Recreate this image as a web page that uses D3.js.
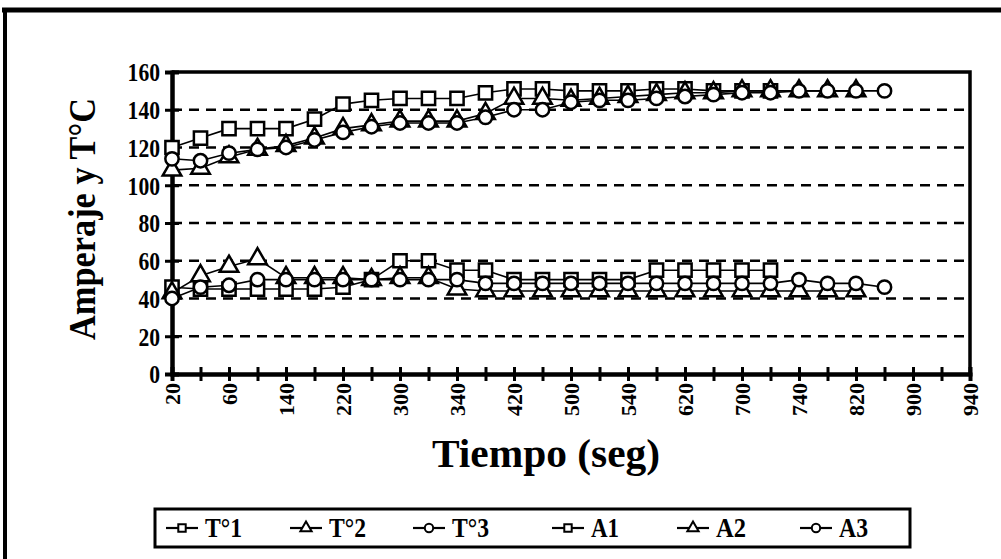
<!DOCTYPE html>
<html>
<head>
<meta charset="utf-8">
<script src="https://cdn.jsdelivr.net/npm/d3@7"></script>
<style>
  html, body { margin: 0; padding: 0; background: #fff; }
  svg { display: block; }
  text { font-family: "Liberation Serif", "Times New Roman", serif; font-weight: bold; fill: #000; }
</style>
</head>
<body>
<svg id="chart" width="1001" height="559"></svg>
<script>
// ---------- data ----------
const categories = [20,40,60,100,140,180,220,260,300,320,340,380,420,460,500,520,540,580,620,660,700,720,740,780,820,860,900,920,940];
const tickLabels = ["20","60","140","220","300","340","420","500","540","620","700","740","820","900","940"];
const yTicks = [0,20,40,60,80,100,120,140,160];

const t1 = [120,125,130,130,130,135,143,145,146,146,146,149,151,151,150,150,150,151,151,150,150,150];
const t2 = [108,109,115,119,121,125,130,132,134,134,134,138,146,146,145,146,147,148,149,149,150,150,150,150,150];
const t3 = [114,113,117,119,120,124,128,131,133,133,133,136,140,140,144,145,145,146,147,148,149,149,150,150,150,150];
const a1 = [46,45,45,45,45,45,46,50,60,60,55,55,50,50,50,50,50,55,55,55,55,55];
const a2 = [43,52,57,61,51,51,51,50,51,51,45,44,44,44,44,44,44,44,44,44,44,44,44,44,44];
const a3 = [40,46,47,50,50,50,50,50,50,50,50,48,48,48,48,48,48,48,48,48,48,48,50,48,48,46];

const seriesNames = ["T°1","T°2","T°3","A1","A2","A3"];
const seriesValues = [t1,t2,t3,a1,a2,a3];
const seriesShapes = ["square","triangle","circle","square","triangle","circle"];

// ---------- layout ----------
const svg = d3.select("#chart");
const plot = {left: 172, right: 970, top: 72, bottom: 374};

const x = d3.scalePoint().domain(d3.range(categories.length)).range([plot.left, plot.right]);
const y = d3.scaleLinear().domain([0,160]).range([plot.bottom, plot.top]);

// outer chart border (partially visible)
svg.append("line").attr("x1",2).attr("x2",1001).attr("y1",10).attr("y2",10).attr("stroke","#000").attr("stroke-width",5);
svg.append("line").attr("x1",5).attr("x2",5).attr("y1",8).attr("y2",559).attr("stroke","#000").attr("stroke-width",4);

// gridlines
svg.append("g").selectAll("line").data(yTicks.filter(d => d > 0 && d < 160)).join("line")
  .attr("x1", plot.left).attr("x2", plot.right)
  .attr("y1", d => y(d)).attr("y2", d => y(d))
  .attr("stroke","#000").attr("stroke-width",2.6).attr("stroke-dasharray","10,7");

// plot area top/right border
svg.append("path")
  .attr("d", `M${plot.left},${plot.top}H${plot.right}V${plot.bottom}`)
  .attr("fill","none").attr("stroke","#000").attr("stroke-width",3.5);

// y axis
const yAxisL = d3.axisLeft(y).tickValues(yTicks).tickSize(7).tickPadding(5).tickFormat(d3.format("d"));
const yAxisR = d3.axisRight(y).tickValues(yTicks).tickSize(7).tickFormat("");
const gyl = svg.append("g").attr("transform",`translate(${plot.left},0)`).call(yAxisL);
const gyr = svg.append("g").attr("transform",`translate(${plot.left},0)`).call(yAxisR);
[gyl, gyr].forEach(g => {
  g.select(".domain").attr("stroke","#000").attr("stroke-width",4);
  g.selectAll(".tick line").attr("stroke","#000").attr("stroke-width",3);
});
gyl.selectAll(".tick text")
  .attr("font-size",26).attr("font-family","Liberation Serif").attr("font-weight","bold")
  .attr("textLength", d => String(d).length * 10.8).attr("lengthAdjust","spacingAndGlyphs")
  .attr("dy","0.34em");

// x axis
const labelFor = i => (i % 2 === 0 ? tickLabels[i/2] : "");
const xAxisB = d3.axisBottom(x).tickSize(7).tickPadding(4).tickFormat(labelFor);
const xAxisT = d3.axisTop(x).tickSize(7).tickFormat("");
const gxb = svg.append("g").attr("transform",`translate(0,${plot.bottom})`).call(xAxisB);
const gxt = svg.append("g").attr("transform",`translate(0,${plot.bottom})`).call(xAxisT);
[gxb, gxt].forEach(g => {
  g.select(".domain").attr("stroke","#000").attr("stroke-width",4);
  g.selectAll(".tick line").attr("stroke","#000").attr("stroke-width",3);
});
gxb.selectAll(".tick text")
  .attr("font-size",22).attr("font-family","Liberation Serif").attr("font-weight","bold")
  .attr("transform","rotate(-90)")
  .attr("text-anchor","end")
  .attr("x",-9).attr("y",0).attr("dy","0.35em");

// marker helper
const symSize = {square: 175, triangle: 150, circle: 140};
const symType = {square: d3.symbolSquare, triangle: d3.symbolTriangle, circle: d3.symbolCircle};

const line = d3.line().x((d,i) => x(i)).y(d => y(d));

seriesValues.forEach((vals, s) => {
  const g = svg.append("g");
  g.append("path").datum(vals).attr("d", line).attr("fill","none").attr("stroke","#000").attr("stroke-width",1.6);
  g.selectAll("path.m").data(vals).join("path").attr("class","m")
    .attr("transform",(d,i) => `translate(${x(i)},${y(d)})`)
    .attr("d", d3.symbol().type(symType[seriesShapes[s]]).size(symSize[seriesShapes[s]]))
    .attr("fill","#fff").attr("stroke","#000").attr("stroke-width",2.5);
});

// axis titles
svg.append("text").attr("transform","translate(95,219) rotate(-90)")
  .attr("text-anchor","middle").attr("font-size",38)
  .attr("textLength",242).attr("lengthAdjust","spacingAndGlyphs").text("Amperaje y T°C");
svg.append("text").attr("x",546).attr("y",467)
  .attr("text-anchor","middle").attr("font-size",40)
  .attr("textLength",228).attr("lengthAdjust","spacingAndGlyphs").text("Tiempo (seg)");

// legend
const legend = svg.append("g");
legend.append("rect").attr("x",155).attr("y",509).attr("width",755).attr("height",38)
  .attr("fill","#fff").attr("stroke","#000").attr("stroke-width",3);
const legX = [166, 290, 413, 552, 677, 800];
const legW = [37, 37, 37, 28, 30, 29];
seriesNames.forEach((name, s) => {
  const lx = legX[s];
  legend.append("line").attr("x1",lx).attr("x2",lx+32).attr("y1",528).attr("y2",528)
    .attr("stroke","#000").attr("stroke-width",2.2);
  legend.append("path").attr("transform",`translate(${lx+16},528)`)
    .attr("d", d3.symbol().type(symType[seriesShapes[s]]).size(55))
    .attr("fill","#fff").attr("stroke","#000").attr("stroke-width",2);
  legend.append("text").attr("x",lx+39).attr("y",537).attr("font-size",28)
    .attr("textLength",legW[s]).attr("lengthAdjust","spacingAndGlyphs").text(name);
});
</script>
</body>
</html>
